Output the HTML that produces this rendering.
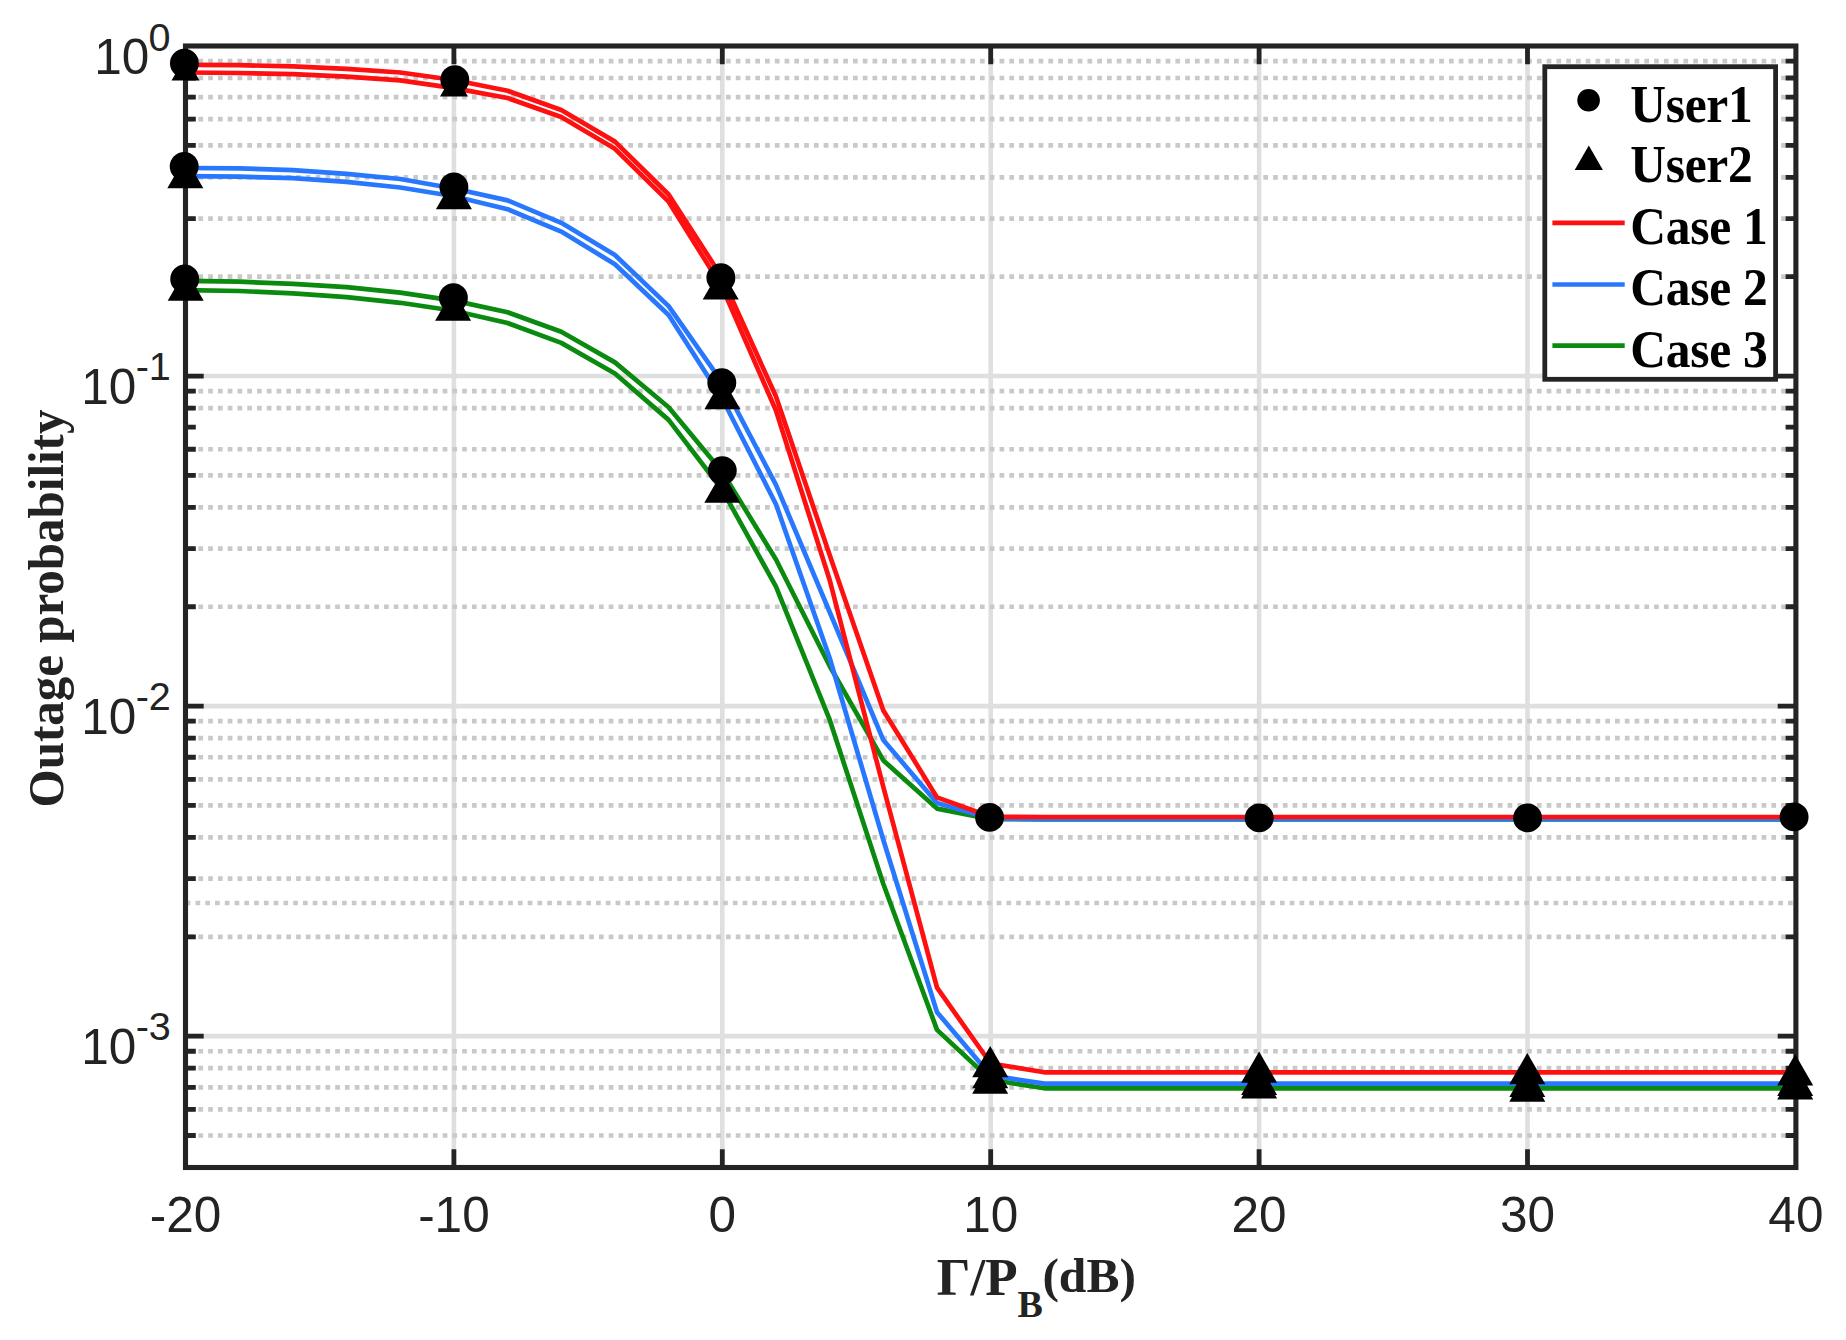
<!DOCTYPE html>
<html lang="en"><head><meta charset="utf-8"><title>Outage probability</title>
<style>html,body{margin:0;padding:0;background:#fff}svg{display:block}.tk{font-family:"Liberation Sans",Arial,Helvetica,sans-serif;fill:#232323}.lb{font-family:"Liberation Serif","Times New Roman",Times,serif;font-weight:bold;fill:#232323}.lg{font-family:"Liberation Serif","Times New Roman",Times,serif;font-weight:bold;fill:#000}</style></head><body>
<svg width="1846" height="1340" viewBox="0 0 1846 1340">
<rect x="0" y="0" width="1846" height="1340" fill="#fff"/>
<g fill="none" stroke-linecap="butt">
<path d="M453.9 46V1167.5 M722.3 46V1167.5 M990.7 46V1167.5 M1259.1 46V1167.5 M1527.5 46V1167.5 M185.5 376.05H1795.9 M185.5 706.1H1795.9 M185.5 1036.15H1795.9" stroke="#dfdfdf" stroke-width="4.6"/>
<path d="M188.63 276.7H1795.9 M188.63 218.58H1795.9 M188.63 177.34H1795.9 M188.63 145.35H1795.9 M188.63 119.22H1795.9 M188.63 97.13H1795.9 M188.63 77.99H1795.9 M188.63 61.1H1795.9 M188.63 606.75H1795.9 M188.63 548.63H1795.9 M188.63 507.39H1795.9 M188.63 475.4H1795.9 M188.63 449.27H1795.9 M188.63 408.04H1795.9 M188.63 391.15H1795.9 M188.63 936.8H1795.9 M188.63 878.68H1795.9 M188.63 837.44H1795.9 M188.63 805.45H1795.9 M188.63 779.32H1795.9 M188.63 757.23H1795.9 M188.63 738.09H1795.9 M188.63 721.2H1795.9 M188.63 1135.5H1795.9 M188.63 1109.37H1795.9 M188.63 1087.28H1795.9 M188.63 1068.14H1795.9 M188.63 1051.25H1795.9 M185.73 903H1795.9" stroke="#c9c9c9" stroke-width="4.7" stroke-dasharray="4.7 5.07"/>
</g>
<g fill="none" stroke-width="4.7" stroke-linejoin="round" stroke-linecap="butt">
<polyline points="185.5,280.9 239.18,281.7 292.86,283.8 346.54,287.1 400.22,292.6 453.9,300.6 507.58,312.3 561.26,331.8 614.94,362.4 668.62,407.2 722.3,472 775.98,559.5 829.66,666 883.34,760.4 937.02,808.6 990.7,819.1 1044.38,819.3 1795.9,819.3" stroke="#0a8a0e"/>
<polyline points="185.5,290.1 239.18,291 292.86,293.4 346.54,297.1 400.22,302.8 453.9,310.7 507.58,323 561.26,342.9 614.94,373.5 668.62,419.9 722.3,490 775.98,586.6 829.66,719.7 883.34,884 937.02,1029.9 990.7,1079.7 1044.38,1088.3 1795.9,1088.3" stroke="#0a8a0e"/>
<polyline points="185.5,168 239.18,168.4 292.86,170.1 346.54,173.8 400.22,179 453.9,188.5 507.58,200.4 561.26,222.8 614.94,255 668.62,306.1 722.3,382.7 775.98,484.8 829.66,612 883.34,740.1 937.02,803.1 990.7,818.6 1044.38,819.1 1795.9,819.1" stroke="#2878ff"/>
<polyline points="185.5,176.1 239.18,176.6 292.86,178.2 346.54,181.9 400.22,187.5 453.9,196.3 507.58,209.2 561.26,231.6 614.94,264.2 668.62,315 722.3,398.8 775.98,504.2 829.66,658 883.34,840 937.02,1012.2 990.7,1075.4 1044.38,1083.6 1795.9,1083.6" stroke="#2878ff"/>
<polyline points="185.5,64.9 239.18,65.2 292.86,66.3 346.54,68.8 400.22,72.5 453.9,80 507.58,90.8 561.26,110 614.94,141.6 668.62,194.5 722.3,277.8 775.98,396.5 829.66,555 883.34,710.4 937.02,797.4 990.7,816.8 1044.38,817 1795.9,817" stroke="#ff1010"/>
<polyline points="185.5,72.5 239.18,73 292.86,74.1 346.54,76.6 400.22,80.3 453.9,88.1 507.58,98 561.26,117 614.94,148.8 668.62,201.7 722.3,287.5 775.98,410.5 829.66,580 883.34,787 937.02,987.7 990.7,1063.5 1044.38,1072.3 1795.9,1072.3" stroke="#ff1010"/>
</g>
<g fill="none" stroke="#242424" stroke-width="4.8" stroke-linecap="butt">
<path d="M453.9 1167.5V1149.3 M453.9 46V64.2 M722.3 1167.5V1149.3 M722.3 46V64.2 M990.7 1167.5V1149.3 M990.7 46V64.2 M1259.1 1167.5V1149.3 M1259.1 46V64.2 M1527.5 1167.5V1149.3 M1527.5 46V64.2 M185.5 376.05H203.7 M1795.9 376.05H1777.7 M185.5 706.1H203.7 M1795.9 706.1H1777.7 M185.5 1036.15H203.7 M1795.9 1036.15H1777.7 M185.5 276.7H195.8 M1795.9 276.7H1785.6 M185.5 218.58H195.8 M1795.9 218.58H1785.6 M185.5 177.34H195.8 M1795.9 177.34H1785.6 M185.5 145.35H195.8 M1795.9 145.35H1785.6 M185.5 119.22H195.8 M1795.9 119.22H1785.6 M185.5 97.13H195.8 M1795.9 97.13H1785.6 M185.5 77.99H195.8 M1795.9 77.99H1785.6 M185.5 61.1H195.8 M1795.9 61.1H1785.6 M185.5 606.75H195.8 M1795.9 606.75H1785.6 M185.5 548.63H195.8 M1795.9 548.63H1785.6 M185.5 507.39H195.8 M1795.9 507.39H1785.6 M185.5 475.4H195.8 M1795.9 475.4H1785.6 M185.5 449.27H195.8 M1795.9 449.27H1785.6 M185.5 427.18H195.8 M1795.9 427.18H1785.6 M185.5 408.04H195.8 M1795.9 408.04H1785.6 M185.5 391.15H195.8 M1795.9 391.15H1785.6 M185.5 936.8H195.8 M1795.9 936.8H1785.6 M185.5 878.68H195.8 M1795.9 878.68H1785.6 M185.5 837.44H195.8 M1795.9 837.44H1785.6 M185.5 805.45H195.8 M1795.9 805.45H1785.6 M185.5 779.32H195.8 M1795.9 779.32H1785.6 M185.5 757.23H195.8 M1795.9 757.23H1785.6 M185.5 738.09H195.8 M1795.9 738.09H1785.6 M185.5 721.2H195.8 M1795.9 721.2H1785.6 M185.5 1135.5H195.8 M1795.9 1135.5H1785.6 M185.5 1109.37H195.8 M1795.9 1109.37H1785.6 M185.5 1087.28H195.8 M1795.9 1087.28H1785.6 M185.5 1068.14H195.8 M1795.9 1068.14H1785.6 M185.5 1051.25H195.8 M1795.9 1051.25H1785.6"/>
<rect x="185.5" y="46" width="1610.4" height="1121.5" stroke-width="5.1" stroke-linejoin="miter"/>
</g>
<g fill="#000" stroke="none">
<circle cx="184.4" cy="63.3" r="14.45"/>
<circle cx="184.2" cy="166.5" r="14.45"/>
<circle cx="184.7" cy="278.9" r="14.45"/>
<circle cx="454.8" cy="79.7" r="14.45"/>
<circle cx="453.9" cy="187" r="14.45"/>
<circle cx="453.4" cy="297.7" r="14.45"/>
<circle cx="720.9" cy="277.8" r="14.45"/>
<circle cx="721.8" cy="382.7" r="14.45"/>
<circle cx="722.3" cy="470.6" r="14.45"/>
<circle cx="989.6" cy="817.4" r="14.45"/>
<circle cx="1259.2" cy="817.9" r="14.45"/>
<circle cx="1527.6" cy="817.9" r="14.45"/>
<circle cx="1794.1" cy="816.9" r="14.45"/>
<path d="M185.5 56.35L199.5 80.6L171.5 80.6Z M185.3 157.12L203.3 188.3L167.3 188.3Z M185.7 269.52L203.7 300.7L167.7 300.7Z M454 72.15L468 96.4L440 96.4Z M453.9 178.02L471.9 209.2L435.9 209.2Z M453.1 289.62L471.1 320.8L435.1 320.8Z M720.7 268.42L738.7 299.6L702.7 299.6Z M722.4 378.02L740.4 409.2L704.4 409.2Z M722.3 471.62L740.3 502.8L704.3 502.8Z M990.2 1046.12L1008.2 1077.3L972.2 1077.3Z M990.2 1057.12L1008.2 1088.3L972.2 1088.3Z M990.2 1062.52L1008.2 1093.7L972.2 1093.7Z M1259.1 1051.62L1277.1 1082.8L1241.1 1082.8Z M1259.1 1063.72L1277.1 1094.9L1241.1 1094.9Z M1259.1 1067.42L1277.1 1098.6L1241.1 1098.6Z M1527.3 1053.02L1545.3 1084.2L1509.3 1084.2Z M1527.3 1065.82L1545.3 1097L1509.3 1097Z M1527.3 1070.62L1545.3 1101.8L1509.3 1101.8Z M1795.2 1054.32L1813.2 1085.5L1777.2 1085.5Z M1795.2 1064.72L1813.2 1095.9L1777.2 1095.9Z M1795.2 1068.42L1813.2 1099.6L1777.2 1099.6Z"/>
</g>
<g class="tk" font-size="49.5" text-anchor="middle">
<text x="185.5" y="1232">-20</text>
<text x="453.9" y="1232">-10</text>
<text x="722.3" y="1232">0</text>
<text x="990.7" y="1232">10</text>
<text x="1259.1" y="1232">20</text>
<text x="1527.5" y="1232">30</text>
<text x="1795.9" y="1232">40</text>
</g>
<g class="tk" font-size="49.5" text-anchor="end">
<text x="149.4" y="74.3">10</text>
<text x="148.4" y="50.5" font-size="39.6" text-anchor="start">0</text>
<text x="136.4" y="403.9">10</text>
<text x="135.7" y="380.1" font-size="39.6" text-anchor="start">-1</text>
<text x="136.4" y="733.9">10</text>
<text x="135.7" y="710.1" font-size="39.6" text-anchor="start">-2</text>
<text x="136.4" y="1064">10</text>
<text x="135.7" y="1040.2" font-size="39.6" text-anchor="start">-3</text>
</g>
<text class="lb" font-size="53" x="936.8" y="1294.6">Γ/P</text>
<text class="lb" font-size="38" x="1017.6" y="1317.3">B</text>
<text class="lb" font-size="49.5" x="1042.4" y="1291.6">(dB)</text>
<text class="lb" font-size="49" text-anchor="middle" transform="translate(62.8 608.5) rotate(-90) scale(1 1.05)">Outage probability</text>
<rect x="1544.8" y="66.7" width="230.8" height="312.6" fill="#fff" stroke="#242424" stroke-width="4.8"/>
<circle cx="1588.6" cy="100.2" r="11.3" fill="#000"/>
<path d="M1588.8 145.52L1602.9 169.94L1574.7 169.94Z" fill="#000"/>
<g fill="none" stroke-width="4.7">
<path d="M1552.4 222.8H1624.7" stroke="#ff1010"/>
<path d="M1552.4 284.5H1624.7" stroke="#2878ff"/>
<path d="M1552.4 345.7H1624.7" stroke="#0a8a0e"/>
</g>
<g class="lg" font-size="49.5" letter-spacing="-0.3">
<text transform="translate(1630.3 121.7) scale(1 1.06)">User1</text>
<text transform="translate(1630.3 182.3) scale(1 1.06)">User2</text>
<text transform="translate(1630.3 244.3) scale(1 1.06)">Case 1</text>
<text transform="translate(1630.3 305.1) scale(1 1.06)">Case 2</text>
<text transform="translate(1630.3 366.7) scale(1 1.06)">Case 3</text>
</g>
</svg></body></html>
